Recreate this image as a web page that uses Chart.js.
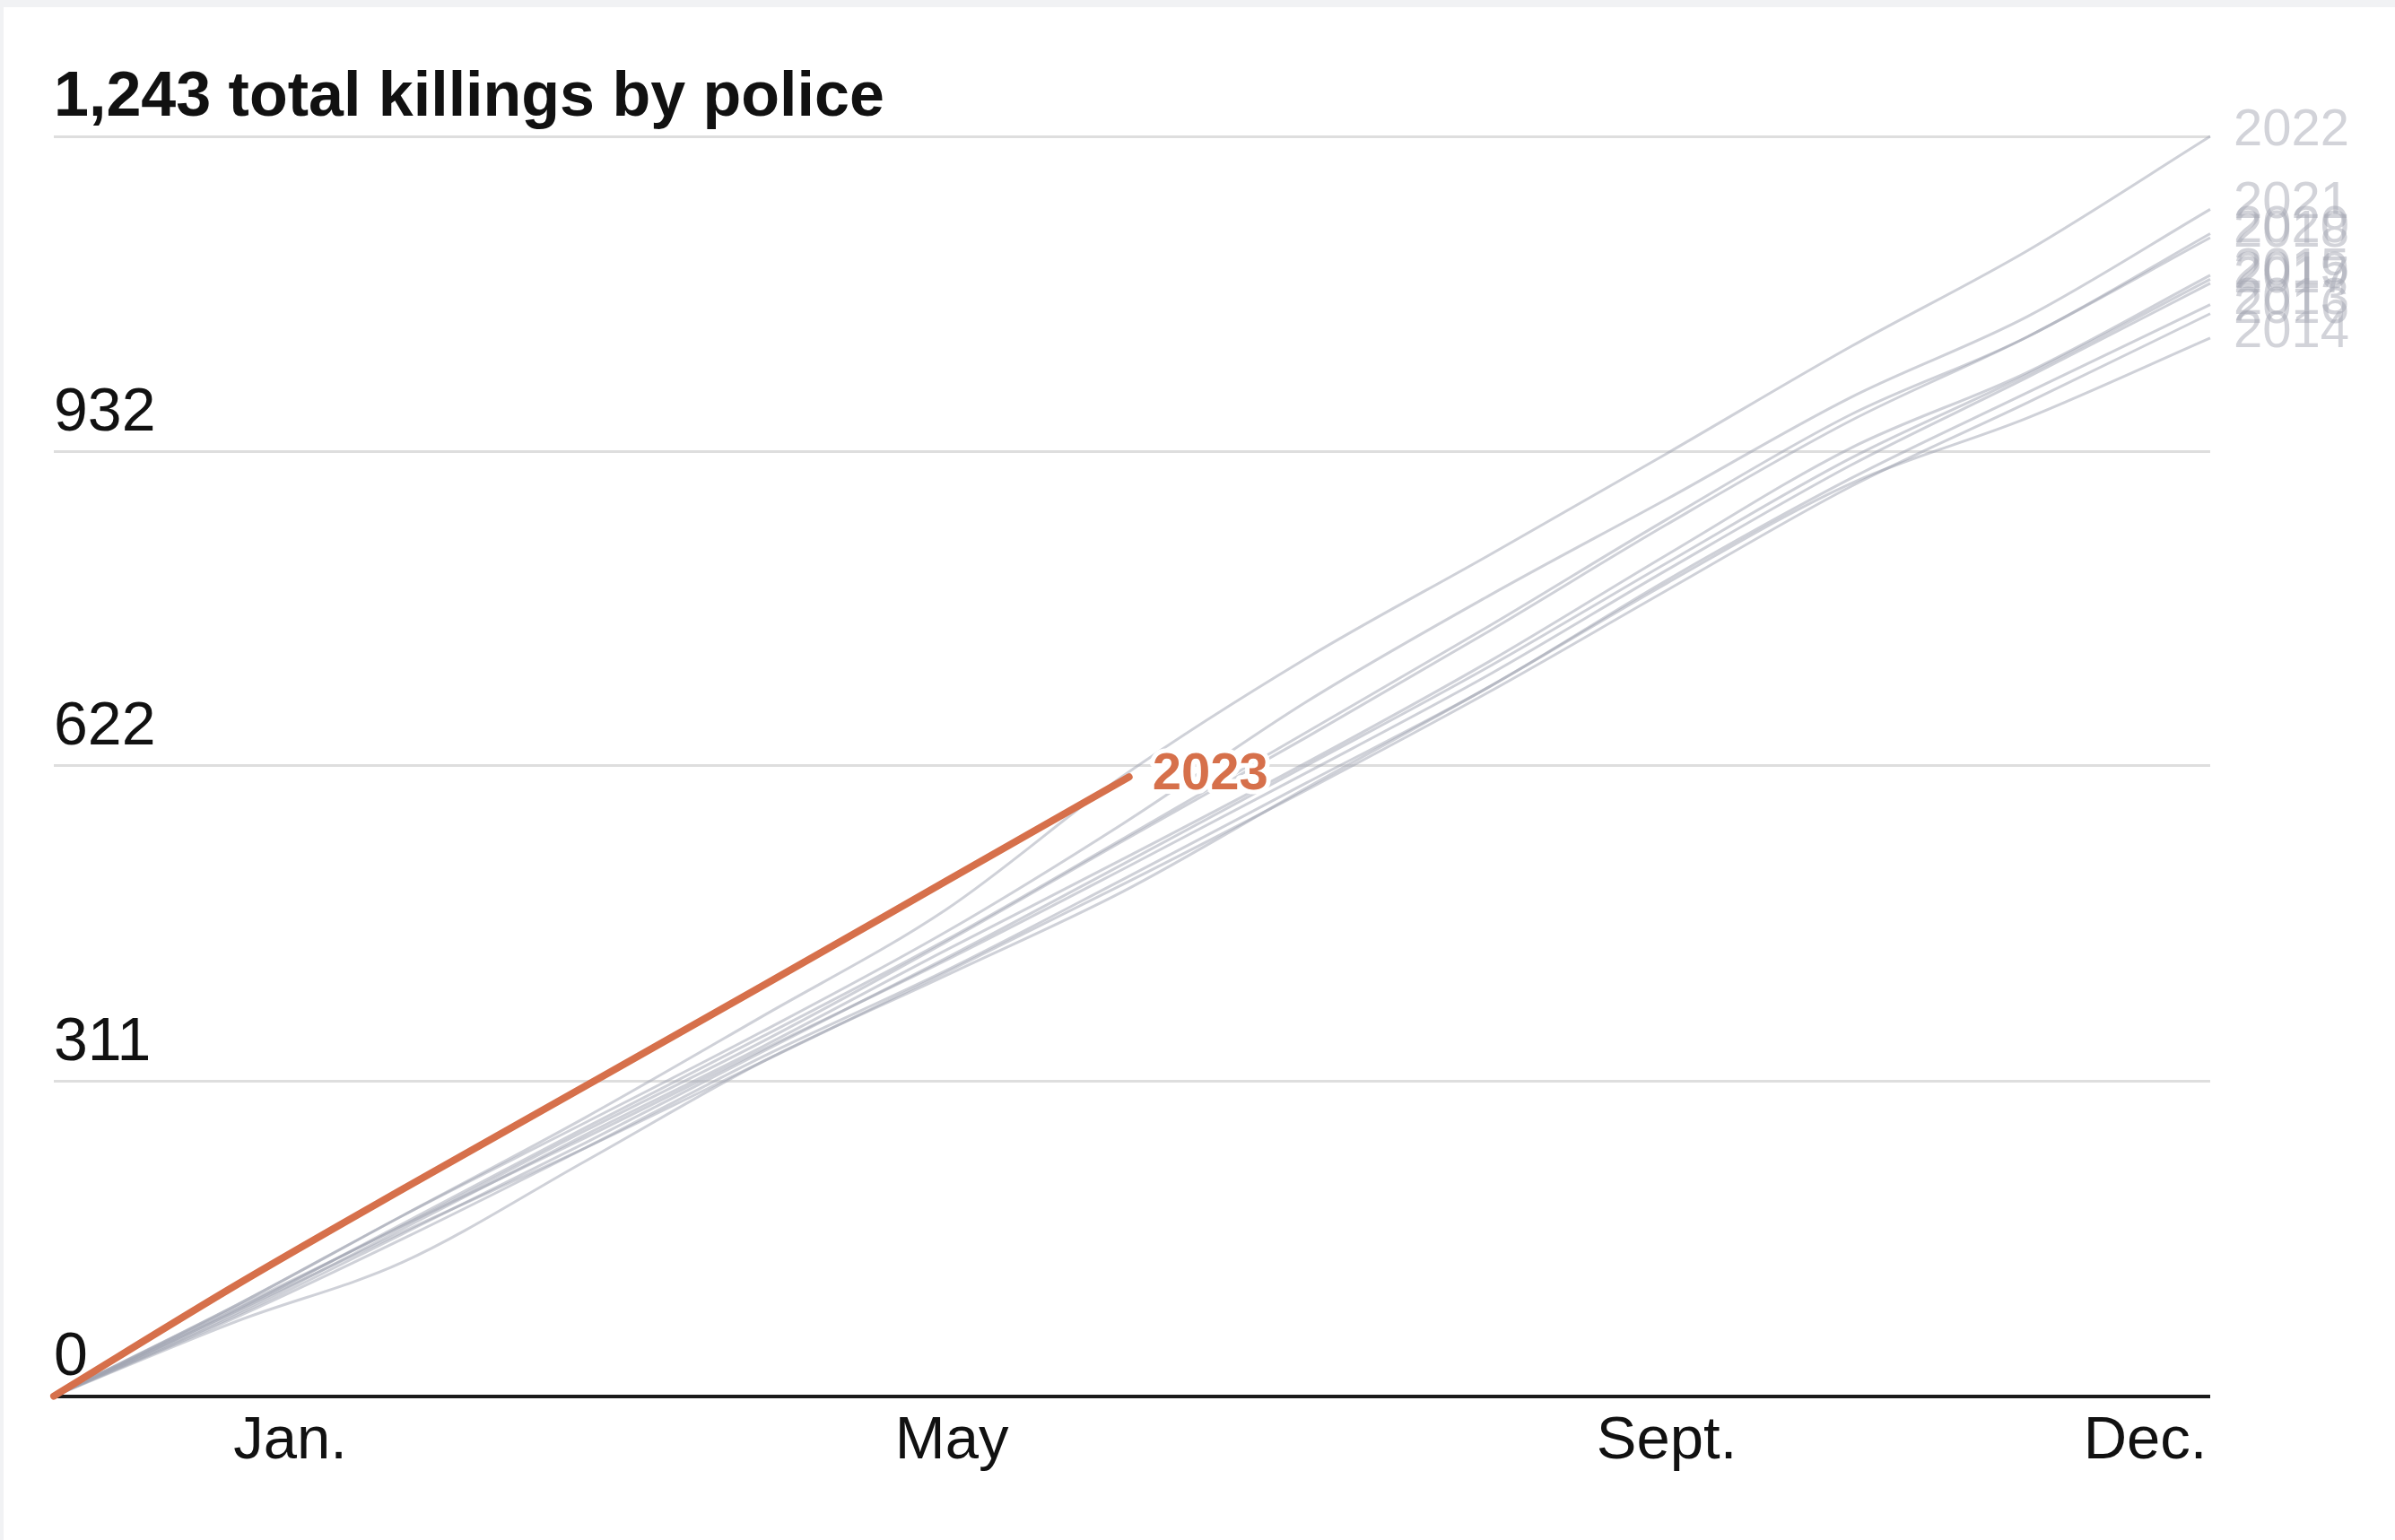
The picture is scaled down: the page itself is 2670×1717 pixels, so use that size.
<!DOCTYPE html>
<html>
<head>
<meta charset="utf-8">
<title>Killings by police</title>
<script src="https://cdn.jsdelivr.net/npm/chart.js@4.4.0/dist/chart.umd.min.js"></script>
<style>
  html, body { margin: 0; padding: 0; background: #f1f2f4; }
  #wrap { position: absolute; left: 4px; top: 8px; width: 2666px; height: 1709px; background: #fff; }
</style>
</head>
<body>
<div id="wrap"><canvas id="killingsChart"></canvas></div>
<script>
// day of year for each monthly reading (Jan 1 .. Dec 31)
const monthDays = [0, 31, 59, 90, 120, 151, 181, 212, 243, 273, 304, 334, 365];

// cumulative killings
const y2022 = [0, 90, 178, 275, 375, 480, 612, 728, 830, 930, 1035, 1130, 1243];
const y2021 = [0, 90, 178, 270, 360, 458, 565, 685, 790, 885, 985, 1065, 1171];
const y2020 = [0, 85, 170, 265, 355, 450, 550, 655, 760, 865, 968, 1045, 1147];
const y2019 = [0, 80, 160, 250, 340, 432, 525, 622, 720, 822, 925, 1008, 1102];
const y2018 = [0, 88, 168, 262, 350, 448, 548, 650, 755, 860, 962, 1045, 1143];
const y2017 = [0, 86, 168, 255, 342, 430, 520, 615, 712, 815, 918, 1005, 1098];
const y2016 = [0, 84, 162, 245, 330, 418, 505, 598, 695, 795, 897, 980, 1068];
const y2015 = [0, 82, 165, 258, 345, 440, 530, 625, 725, 830, 935, 1010, 1106];
const y2014 = [0, 74, 132, 232, 330, 415, 498, 600, 700, 802, 900, 965, 1044];
const y2013 = [0, 78, 155, 245, 335, 420, 510, 605, 700, 805, 905, 990, 1077];

// 2023 so far
const days2023 = [0, 31, 59, 90, 120, 151, 182];
const y2023 = [0, 110, 204, 306, 405, 508, 611];

const pastYears = ['2022', '2021', '2020', '2019', '2018', '2017', '2016', '2015', '2014', '2013'];
const pastValues = [y2022, y2021, y2020, y2019, y2018, y2017, y2016, y2015, y2014, y2013];

const yTickValues = [0, 311, 622, 932, 1243];
const yTickLabels = ['0', '311', '622', '932', '1,243 total killings by police'];
const monthTickDays = [40, 152, 273, 354];
const monthTickLabels = ['Jan.', 'May', 'Sept.', 'Dec.'];

const FONT = '"Liberation Sans", Arial, Helvetica, sans-serif';
const ORANGE = '#d6704b';

function points(days, vals) {
    return days.map((d, i) => ({ x: d, y: vals[i] }));
}

const datasets = [{
    label: '2023',
    data: points(days2023, y2023),
    borderColor: ORANGE,
    borderWidth: 8,
    borderCapStyle: 'round',
    order: 0
}];
pastYears.forEach((yr, i) => {
    datasets.push({
        label: yr,
        data: points(monthDays, pastValues[i]),
        borderColor: 'rgba(160,164,178,0.5)',
        borderWidth: 3,
        order: 1
    });
});

// year names at the end of each line
const yearLabels = {
    id: 'yearLabels',
    afterDatasetsDraw(chart) {
        const ctx = chart.ctx;
        ctx.save();
        ctx.textAlign = 'left';
        ctx.textBaseline = 'middle';
        chart.data.datasets.forEach((ds, i) => {
            const meta = chart.getDatasetMeta(i);
            const last = meta.data[meta.data.length - 1];
            if (ds.label === '2023') {
                ctx.font = 'bold 58px ' + FONT;
                ctx.lineWidth = 10;
                ctx.lineJoin = 'round';
                ctx.strokeStyle = '#fff';
                ctx.strokeText(ds.label, last.x + 26, last.y - 2);
                ctx.fillStyle = ORANGE;
                ctx.fillText(ds.label, last.x + 26, last.y - 2);
            } else {
                ctx.font = '58px ' + FONT;
                ctx.fillStyle = 'rgba(165,168,180,0.5)';
                ctx.fillText(ds.label, last.x + 26, last.y - 6);
            }
        });
        ctx.restore();
    }
};

const ctx = document.getElementById('killingsChart').getContext('2d');
new Chart(ctx, {
    type: 'line',
    data: { datasets: datasets },
    options: {
        responsive: true,
        maintainAspectRatio: false,
        animation: false,
        clip: 8,
        layout: { padding: { left: 56, right: 206, top: 144, bottom: 58 } },
        elements: {
            point: { radius: 0 },
            line: { cubicInterpolationMode: 'monotone' }
        },
        plugins: {
            legend: { display: false },
            tooltip: { enabled: false }
        },
        scales: {
            x: {
                type: 'linear',
                min: 0,
                max: 365,
                afterBuildTicks: s => { s.ticks = monthTickDays.map(v => ({ value: v })); },
                border: { display: false },
                grid: { display: false, drawTicks: false },
                ticks: {
                    autoSkip: false,
                    maxRotation: 0,
                    padding: 11,
                    color: '#111',
                    font: { family: FONT, size: 67 },
                    callback: (v, i) => monthTickLabels[i]
                }
            },
            y: {
                min: 0,
                max: 1243,
                afterBuildTicks: s => { s.ticks = yTickValues.map(v => ({ value: v })); },
                border: { display: false },
                grid: {
                    drawTicks: false,
                    color: c => (c.tick && c.tick.value === 0) ? '#1a1a1a' : '#dedede',
                    lineWidth: c => (c.tick && c.tick.value === 0) ? 4 : 3
                },
                ticks: {
                    mirror: true,
                    padding: 0,
                    labelOffset: -42,
                    autoSkip: false,
                    color: '#111',
                    font: c => (c.tick && c.tick.value === 1243)
                        ? { family: FONT, size: 70, weight: 'bold' }
                        : { family: FONT, size: 68 },
                    callback: (v, i) => yTickLabels[i]
                }
            }
        }
    },
    plugins: [yearLabels]
});
</script>
</body>
</html>
